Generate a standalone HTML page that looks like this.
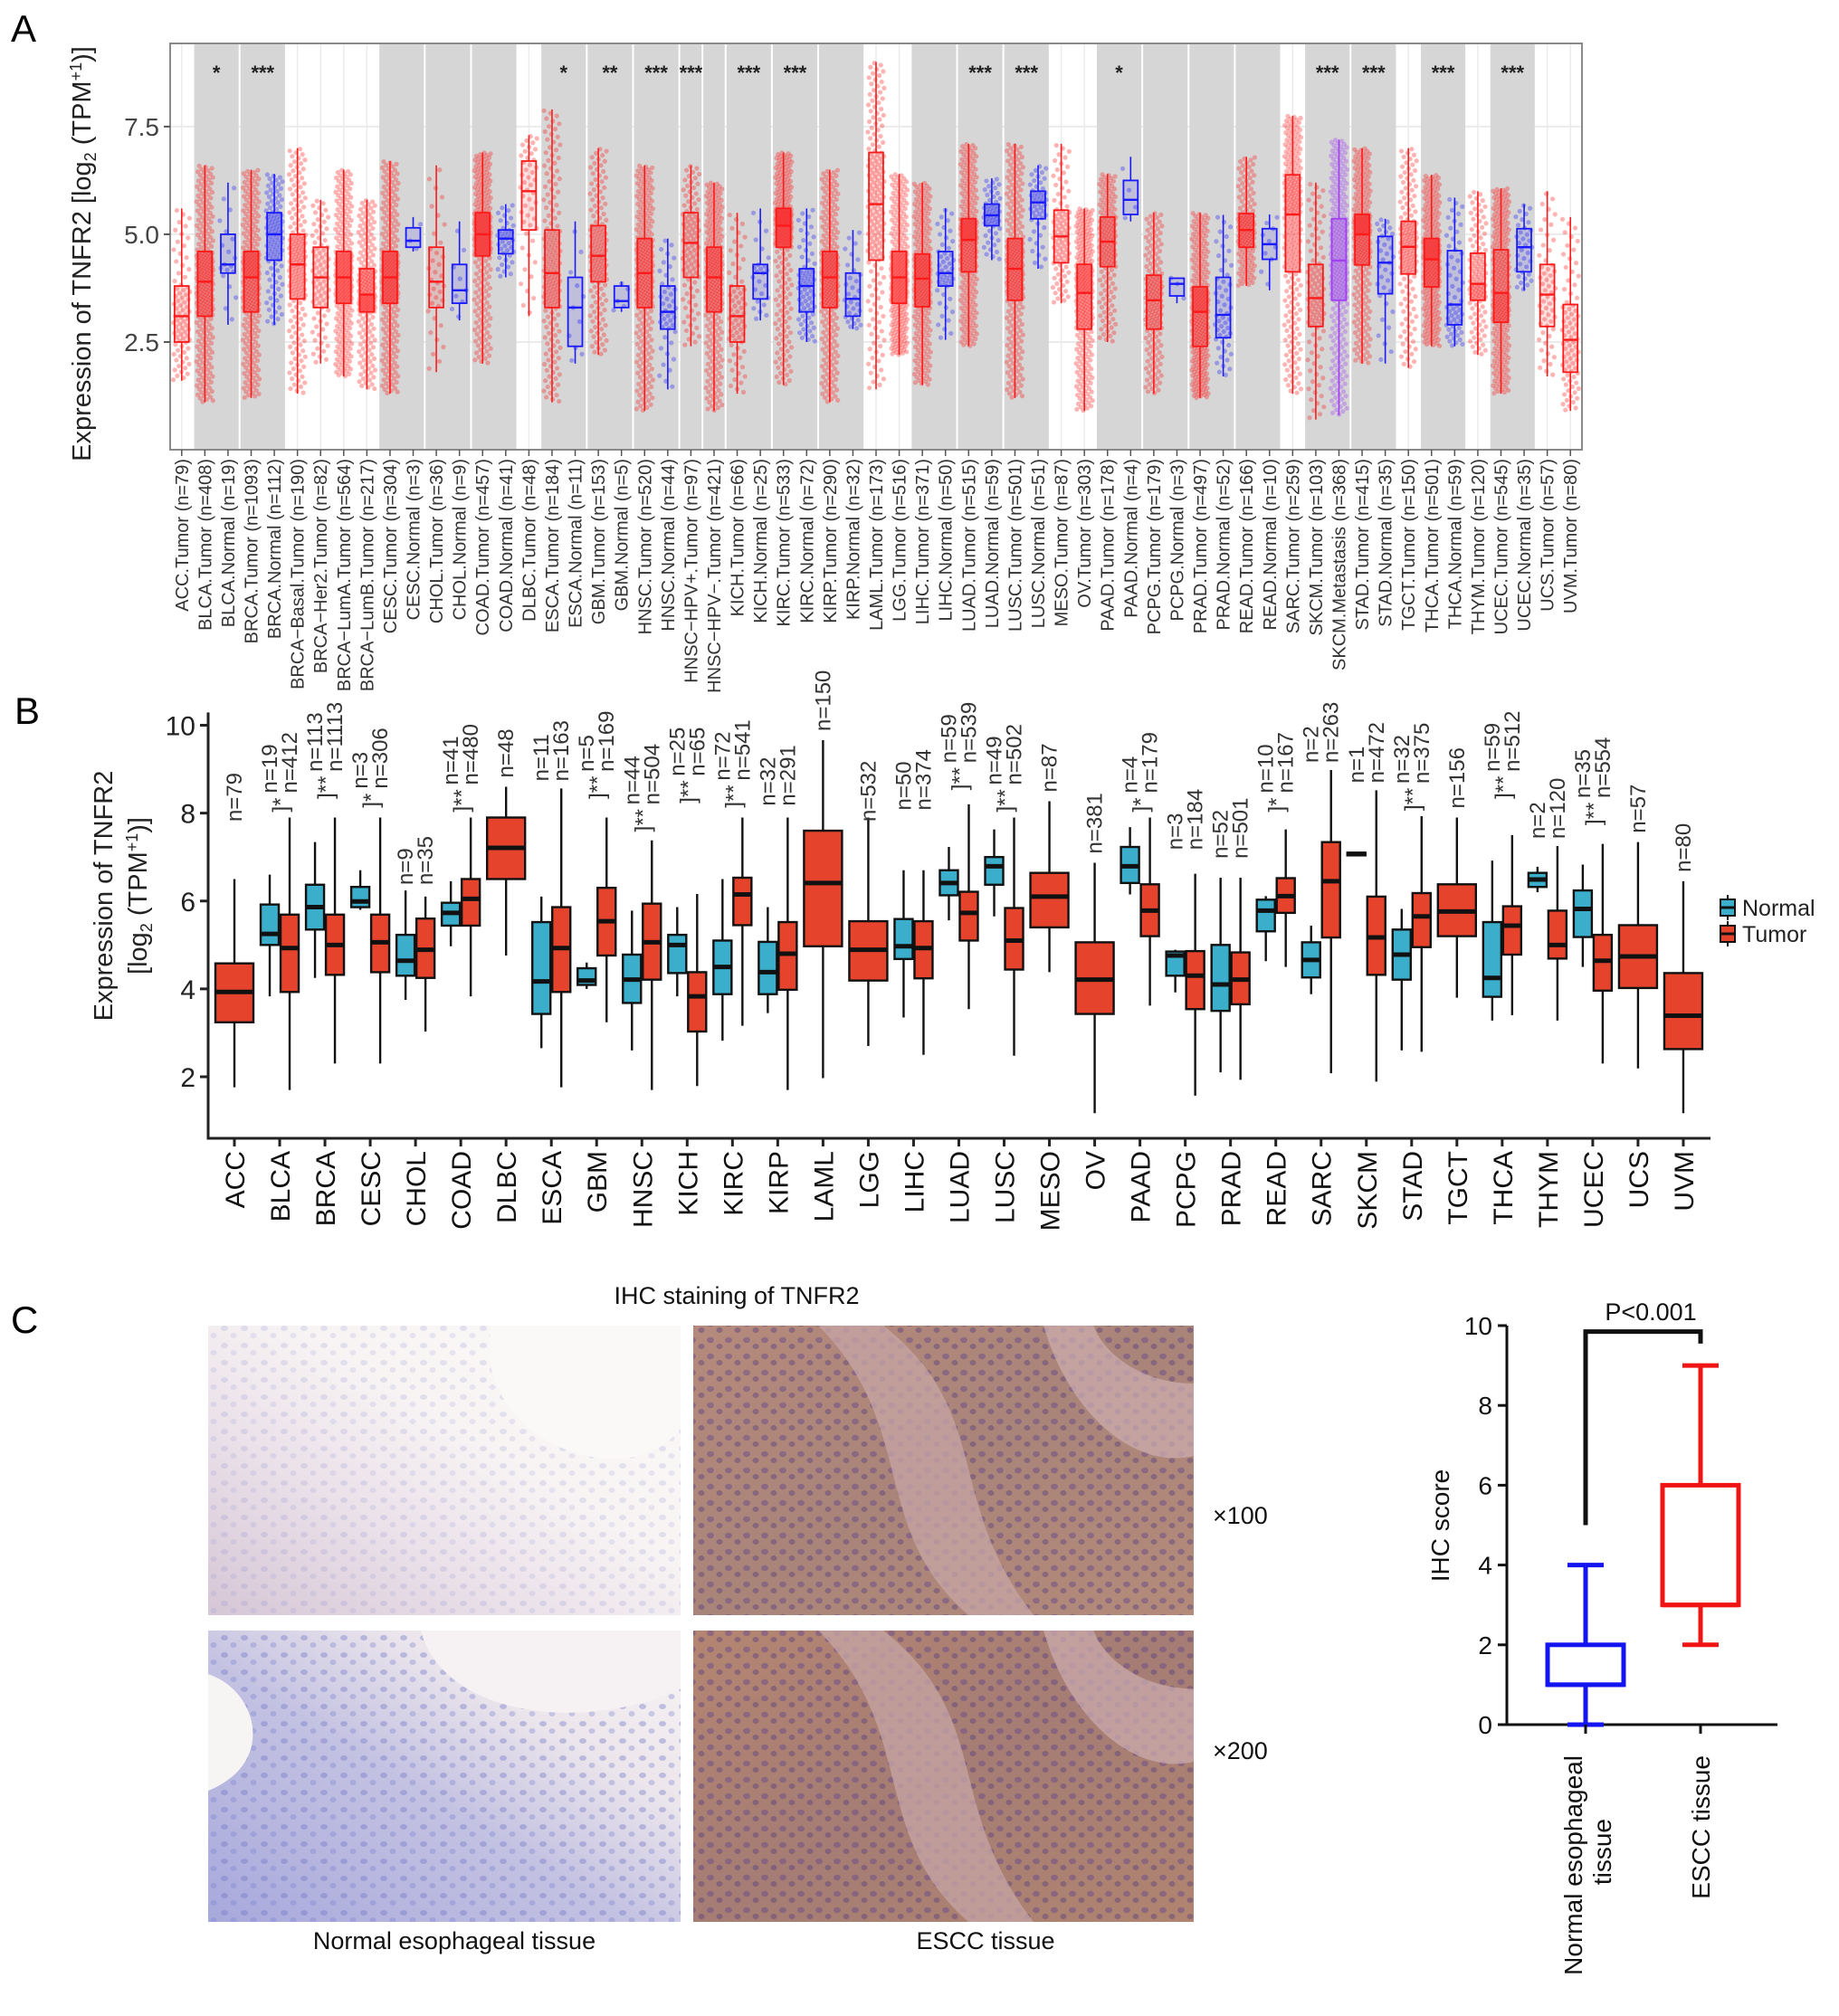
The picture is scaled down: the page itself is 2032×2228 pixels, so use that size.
<!DOCTYPE html>
<html><head><meta charset="utf-8"><style>
body{margin:0;background:#fff}
svg{display:block;font-family:"Liberation Sans",sans-serif}
</style></head><body>
<svg id="fig" xmlns="http://www.w3.org/2000/svg" width="2032" height="2228" viewBox="0 0 2032 2228">
<defs>
<pattern id="nucB" width="22" height="19" patternUnits="userSpaceOnUse"><ellipse cx="6" cy="5" rx="4" ry="3" fill="#6f73c4" opacity="0.55"/><ellipse cx="16" cy="13" rx="3.5" ry="3" fill="#7a7fcf" opacity="0.5"/></pattern>
<pattern id="nucP" width="20" height="18" patternUnits="userSpaceOnUse"><ellipse cx="5" cy="5" rx="4" ry="3.2" fill="#6a4a8a" opacity="0.55"/><ellipse cx="15" cy="12" rx="3.5" ry="3" fill="#5c3f7e" opacity="0.5"/></pattern>
<linearGradient id="gN1" x1="0" y1="1" x2="1" y2="0"><stop offset="0" stop-color="#d6c6d6"/><stop offset="0.35" stop-color="#ebe2ea"/><stop offset="0.6" stop-color="#f8f4f4"/><stop offset="1" stop-color="#fbf9f8"/></linearGradient>
<linearGradient id="gN2" x1="0" y1="1" x2="1" y2="0"><stop offset="0" stop-color="#a7a9dc"/><stop offset="0.45" stop-color="#c4c2e2"/><stop offset="0.7" stop-color="#ece6ec"/><stop offset="1" stop-color="#f8f4f4"/></linearGradient>
<linearGradient id="gT1" x1="0" y1="0" x2="1" y2="1"><stop offset="0" stop-color="#b58a7c"/><stop offset="0.5" stop-color="#a98479"/><stop offset="1" stop-color="#b48b7a"/></linearGradient>
<linearGradient id="gT2" x1="0" y1="0" x2="1" y2="1"><stop offset="0" stop-color="#b48572"/><stop offset="0.5" stop-color="#a57d74"/><stop offset="1" stop-color="#b08470"/></linearGradient>
</defs>
<g id="panelA"></g>
<g id="panelB"></g>
<g id="panelC"></g>
</svg>
<script>
// ---------------- Panel A data ----------------
const aLabels=["ACC.Tumor (n=79)","BLCA.Tumor (n=408)","BLCA.Normal (n=19)","BRCA.Tumor (n=1093)","BRCA.Normal (n=112)","BRCA\u2212Basal.Tumor (n=190)","BRCA\u2212Her2.Tumor (n=82)","BRCA\u2212LumA.Tumor (n=564)","BRCA\u2212LumB.Tumor (n=217)","CESC.Tumor (n=304)","CESC.Normal (n=3)","CHOL.Tumor (n=36)","CHOL.Normal (n=9)","COAD.Tumor (n=457)","COAD.Normal (n=41)","DLBC.Tumor (n=48)","ESCA.Tumor (n=184)","ESCA.Normal (n=11)","GBM.Tumor (n=153)","GBM.Normal (n=5)","HNSC.Tumor (n=520)","HNSC.Normal (n=44)","HNSC\u2212HPV+.Tumor (n=97)","HNSC\u2212HPV\u2212.Tumor (n=421)","KICH.Tumor (n=66)","KICH.Normal (n=25)","KIRC.Tumor (n=533)","KIRC.Normal (n=72)","KIRP.Tumor (n=290)","KIRP.Normal (n=32)","LAML.Tumor (n=173)","LGG.Tumor (n=516)","LIHC.Tumor (n=371)","LIHC.Normal (n=50)","LUAD.Tumor (n=515)","LUAD.Normal (n=59)","LUSC.Tumor (n=501)","LUSC.Normal (n=51)","MESO.Tumor (n=87)","OV.Tumor (n=303)","PAAD.Tumor (n=178)","PAAD.Normal (n=4)","PCPG.Tumor (n=179)","PCPG.Normal (n=3)","PRAD.Tumor (n=497)","PRAD.Normal (n=52)","READ.Tumor (n=166)","READ.Normal (n=10)","SARC.Tumor (n=259)","SKCM.Tumor (n=103)","SKCM.Metastasis (n=368)","STAD.Tumor (n=415)","STAD.Normal (n=35)","TGCT.Tumor (n=150)","THCA.Tumor (n=501)","THCA.Normal (n=59)","THYM.Tumor (n=120)","UCEC.Tumor (n=545)","UCEC.Normal (n=35)","UCS.Tumor (n=57)","UVM.Tumor (n=80)"];
const aN=[79,408,19,1093,112,190,82,564,217,304,3,36,9,457,41,48,184,11,153,5,520,44,97,421,66,25,533,72,290,32,173,516,371,50,515,59,501,51,87,303,178,4,179,3,497,52,166,10,259,103,368,415,35,150,501,59,120,545,35,57,80];
const aMed=[3.1,3.9,4.3,4.0,5.0,4.3,4.0,4.0,3.6,4.0,4.85,3.9,3.7,5.0,4.9,6.0,4.1,3.3,4.5,3.45,4.1,3.2,4.8,4.0,3.1,4.1,5.2,3.8,4.0,3.5,5.7,4.0,3.97,4.1,4.87,5.44,4.2,5.74,4.95,3.64,4.83,5.8,3.47,3.85,3.2,3.13,5.1,4.77,5.46,3.52,4.39,5.0,4.34,4.71,4.42,3.37,3.85,3.64,4.7,3.6,2.55];
const aQ1=[2.5,3.1,4.1,3.2,4.4,3.5,3.3,3.4,3.2,3.4,4.7,3.3,3.4,4.5,4.55,5.1,3.3,2.4,3.9,3.3,3.3,2.8,4.0,3.2,2.5,3.5,4.7,3.2,3.3,3.1,4.4,3.4,3.32,3.8,4.13,5.2,3.47,5.36,4.34,2.8,4.25,5.46,2.8,3.57,2.4,2.6,4.7,4.42,4.13,2.86,3.47,4.29,3.62,4.08,3.78,2.9,3.47,2.96,4.13,2.86,1.8];
const aQ3=[3.8,4.6,5.0,4.6,5.5,5.0,4.7,4.6,4.2,4.6,5.15,4.7,4.3,5.5,5.1,6.7,5.1,4.0,5.2,3.8,4.9,3.8,5.5,4.7,3.8,4.3,5.6,4.2,4.6,4.1,6.9,4.6,4.54,4.6,5.36,5.7,4.9,6.0,5.56,4.3,5.4,6.25,4.05,3.98,3.78,4.0,5.48,5.13,6.38,4.3,5.36,5.46,4.95,5.3,4.9,4.62,4.56,4.64,5.13,4.3,3.37];
const aLo=[1.6,1.1,2.9,1.2,2.9,1.3,2.0,1.7,1.4,1.3,4.6,1.8,3.0,2.0,4.0,3.1,1.1,2.0,2.2,3.2,0.9,1.4,2.4,0.9,1.3,3.0,1.5,2.5,1.1,2.8,1.4,2.2,1.5,2.55,2.4,4.4,1.2,4.2,3.4,0.9,2.5,5.3,1.3,3.4,1.2,1.7,3.8,3.7,1.3,0.7,0.8,2.0,2.0,1.9,2.4,2.4,2.2,1.3,3.7,1.7,0.9];
const aHi=[5.6,6.6,6.2,6.5,6.4,7.0,5.8,6.5,5.8,6.7,5.4,6.6,5.3,6.9,5.7,7.3,7.9,5.3,7.0,3.9,6.6,4.9,6.6,6.2,5.5,5.6,6.9,5.6,6.5,5.1,9.0,6.4,6.2,5.6,7.1,6.3,7.1,6.6,7.1,5.6,6.4,6.8,5.5,4.0,5.5,5.45,6.8,5.46,7.75,6.2,7.2,7.0,5.36,7.0,6.38,5.85,6.0,6.07,5.7,6.0,5.4];
const aGroupSize=[1,2,2,1,1,1,1,2,2,2,1,2,2,2,1,1,2,2,2,1,1,2,2,2,1,1,2,2,2,2,1,2,2,1,2,1,2,1,1];
const aGroupShade=[0,1,1,0,0,0,0,1,1,1,0,1,1,1,1,1,1,1,1,0,0,1,1,1,0,0,1,1,1,1,0,1,1,0,1,0,1,0,0];
const aGroupSig=["","*","***","","","","","","","","","*","**","***","***","","***","***","","","","","***","***","","","*","","","","","***","***","","***","","***","",""];
const aTicks=[2.5,5.0,7.5];

// ---------------- Panel B data ----------------
const bCats=["ACC","BLCA","BRCA","CESC","CHOL","COAD","DLBC","ESCA","GBM","HNSC","KICH","KIRC","KIRP","LAML","LGG","LIHC","LUAD","LUSC","MESO","OV","PAAD","PCPG","PRAD","READ","SARC","SKCM","STAD","TGCT","THCA","THYM","UCEC","UCS","UVM"];
const bNormN=[0,19,113,3,9,41,0,11,5,44,25,72,32,0,0,50,59,49,0,0,4,3,52,10,2,1,32,0,59,2,35,0,0];
const bTumN=[79,412,1113,306,35,480,48,163,169,504,65,541,291,150,532,374,539,502,87,381,179,184,501,167,263,472,375,156,512,120,554,57,80];
const bNormMed=[0,5.25,5.86,5.99,4.64,5.73,0,4.17,4.19,4.21,5.0,4.5,4.38,0,0,4.97,6.41,6.79,0,0,6.79,4.76,4.1,5.78,4.66,7.07,4.78,0,4.25,6.49,5.82,0,0];
const bNormQ1=[0,5.0,5.35,5.86,4.3,5.44,0,3.43,4.09,3.68,4.36,3.88,3.88,0,0,4.68,6.13,6.37,0,0,6.41,4.3,3.5,5.31,4.26,7.04,4.21,0,3.82,6.32,5.18,0,0];
const bNormQ3=[0,5.92,6.37,6.32,5.23,5.96,0,5.52,4.47,4.78,5.23,5.1,5.07,0,0,5.59,6.7,7.0,0,0,7.23,4.85,5.0,6.03,5.06,7.1,5.35,0,5.52,6.64,6.24,0,0];
const bNormLo=[0,3.83,4.25,5.8,3.75,4.97,0,2.65,4.0,2.6,3.83,2.82,3.45,0,0,3.35,5.56,5.65,0,0,6.15,3.92,2.1,4.63,3.88,7.04,2.6,0,3.28,6.2,4.5,0,0];
const bNormHi=[0,6.6,7.34,6.7,6.24,6.45,0,6.1,4.6,5.78,5.86,6.5,5.86,0,0,6.7,7.23,7.63,0,0,7.68,4.89,6.53,6.11,5.44,7.1,5.82,0,6.92,6.78,6.83,0,0];
const bTumMed=[3.93,4.93,5.0,5.06,4.89,6.05,7.21,4.93,5.54,5.06,3.83,6.15,4.8,6.41,4.89,4.93,5.73,5.1,6.1,4.21,5.78,4.3,4.21,6.11,6.45,5.17,5.65,5.76,5.44,5.0,4.64,4.74,3.39];
const bTumQ1=[3.24,3.93,4.32,4.38,4.25,5.44,6.5,3.93,4.76,4.21,3.03,5.45,3.98,4.97,4.19,4.24,5.1,4.44,5.4,3.43,5.2,3.54,3.65,5.73,5.17,4.32,4.95,5.2,4.78,4.69,3.96,4.02,2.63];
const bTumQ3=[4.58,5.69,5.69,5.69,5.6,6.5,7.9,5.86,6.3,5.94,4.38,6.53,5.52,7.6,5.54,5.54,6.21,5.84,6.64,5.06,6.38,4.86,4.83,6.52,7.34,6.1,6.18,6.38,5.88,5.78,5.23,5.45,4.36];
const bTumLo=[1.76,1.7,2.3,2.3,3.03,3.83,4.76,1.76,3.24,1.7,1.79,3.16,1.7,1.97,2.7,2.5,3.54,2.48,4.38,1.17,3.62,1.57,1.93,4.5,2.08,1.89,2.57,3.8,3.4,3.28,2.3,2.19,1.17];
const bTumHi=[6.5,7.9,7.9,7.9,6.1,7.9,8.6,8.56,7.9,7.38,6.16,7.9,7.9,9.66,7.9,6.7,8.2,7.9,8.27,6.87,7.9,6.62,6.53,7.63,8.98,8.52,7.93,7.9,7.5,7.25,7.3,7.34,6.45];
const bMaxPt=[7.6,7.9,8.2,8.0,6.2,7.9,8.6,8.56,8.2,7.45,8.1,8.0,8.0,9.66,7.6,7.9,8.4,7.9,8.27,6.87,7.9,7.0,6.8,7.9,8.98,8.52,7.93,7.9,8.2,7.25,7.6,7.34,6.45];
const bSig=["","*","**","*","","**","","","**","**","**","**","","","","","**","**","","","*","","","*","","","**","","**","","**","",""];
const bTicks=[2,4,6,8,10];

// ---------------- Panel C chart data ----------------
const cGroups=["Normal esophageal tissue","ESCC tissue"];
const cMin=[0,2], cQ1=[1,3], cMed=[1,3], cQ3=[2,6], cMax=[4,9];
const cTicks=[0,2,4,6,8,10];

const NS="http://www.w3.org/2000/svg";
function mk(tag,attrs,parent,text){const e=document.createElementNS(NS,tag);for(const k in attrs)e.setAttribute(k,attrs[k]);if(text!==undefined)e.textContent=text;parent.appendChild(e);return e;}

// ================= PANEL A =================
(function(){
const g=document.getElementById('panelA');
const L=188,R=1748,T=48,B=497, y0=0, y1=9.43;
const bw=(R-L)/aLabels.length;
const y=v=>B-(v-y0)/(y1-y0)*(B-T);
const x=i=>L+bw*(i+0.5);
const typeOf=lab=>lab.indexOf('.Normal')>=0?'N':(lab.indexOf('Metastasis')>=0?'M':'T');
const lt=mk('text',{x:12,y:46,'font-size':42,fill:'#000'},g,'A');

const bg=mk('rect',{x:L,y:T,width:R-L,height:B-T,fill:'#fff'},g);

aTicks.forEach(t=>{const l=mk('line',{x1:L,x2:R,y1:y(t),y2:y(t),stroke:'#ebebeb','stroke-width':2},g);});
for(let i=0;i<aLabels.length;i++){const l=mk('line',{x1:x(i),x2:x(i),y1:T,y2:B,stroke:'#ebebeb','stroke-width':1.5},g);}
let s=0;
aGroupSize.forEach((n,gi)=>{
  const gx=L+s*bw;
  if(aGroupShade[gi]){const r=mk('rect',{x:gx+1,y:T,width:n*bw-2,height:B-T,fill:'#d6d6d6'},g);}
  if(aGroupSig[gi]){const t=mk('text',{x:gx+n*bw/2,y:T+40,'font-size':22,'font-weight':'bold','text-anchor':'middle',fill:'#222'},g,aGroupSig[gi]);}
  s+=n;
});
const col={T:'#ff1a1a',N:'#1a1aff',M:'#a040f0'};
const dots=mk('g',{},g);
for(let i=0;i<aLabels.length;i++){
  const c=col[typeOf(aLabels[i])];
  const cnt=Math.min(aN[i],300);
  const qs=[aLo[i],aQ1[i],aMed[i],aQ3[i],aHi[i]];
  for(let k=0;k<cnt;k++){
    const u=((k+0.5)/cnt);
    const seg=Math.min(3,Math.floor(u*4)), f=u*4-seg;
    const v=qs[seg]+(qs[seg+1]-qs[seg])*f;
    const jx=(((k*0.618034+i*0.37)%1)-0.5)*bw*0.72;
    const p=mk('circle',{cx:x(i)+jx,cy:y(v),r:2.6,fill:c,'fill-opacity':0.33},dots);
    
    
  }
}
for(let i=0;i<aLabels.length;i++){
  const c=col[typeOf(aLabels[i])], w=bw*0.62, cx=x(i);
  const bx=mk('g',{},g);
  
  
  mk('line',{x1:cx,x2:cx,y1:y(aHi[i]),y2:y(aQ3[i]),stroke:c,'stroke-width':1.6},bx);
  mk('line',{x1:cx,x2:cx,y1:y(aQ1[i]),y2:y(aLo[i]),stroke:c,'stroke-width':1.6},bx);
  mk('rect',{x:cx-w/2,y:y(aQ3[i]),width:w,height:y(aQ1[i])-y(aQ3[i]),fill:c,'fill-opacity':0.12,stroke:c,'stroke-width':1.8},bx);
  mk('line',{x1:cx-w/2,x2:cx+w/2,y1:y(aMed[i]),y2:y(aMed[i]),stroke:c,'stroke-width':2.4},bx);
}
const fr=mk('rect',{x:L,y:T,width:R-L,height:B-T,fill:'none',stroke:'#8a8a8a','stroke-width':2},g);

aTicks.forEach(t=>{
  const tk=mk('line',{x1:L-7,x2:L,y1:y(t),y2:y(t),stroke:'#555','stroke-width':2},g);
  const tl=mk('text',{x:L-12,y:y(t)+10,'font-size':28,'text-anchor':'end',fill:'#444'},g,t.toFixed(1));
});
aLabels.forEach((lab,i)=>{
  const tk=mk('line',{x1:x(i),x2:x(i),y1:B,y2:B+7,stroke:'#555','stroke-width':1.5},g);
  const t=mk('text',{transform:`translate(${x(i)+7},${B+10}) rotate(-90)`,'font-size':20,'text-anchor':'end',fill:'#333'},g,lab);
  
});
const yt=mk('text',{transform:`translate(100,${(T+B)/2+8}) rotate(-90)`,'font-size':29,'text-anchor':'middle',fill:'#222'},g);

yt.innerHTML='Expression of TNFR2 [log<tspan font-size="18" dy="6">2</tspan><tspan dy="-6"> (TPM</tspan><tspan font-size="18" dy="-10">+1</tspan><tspan dy="10">)]</tspan>';
})();

// ================= PANEL B =================
(function(){
const g=document.getElementById('panelB');
const AX=230, B=1258, Y10=801.5, Y2=1190;
const y=v=>Y2-(v-2)*(Y2-Y10)/8;
const x0=259, step=50.03;
const x=i=>x0+i*step;
const lt=mk('text',{x:16,y:800,'font-size':42,fill:'#000'},g,'B');
const ax=mk('path',{d:`M${AX},${y(10.29)} V${B} H1890`,fill:'none',stroke:'#222','stroke-width':3},g);

bTicks.forEach(t=>{
  const tk=mk('line',{x1:AX-9,x2:AX,y1:y(t),y2:y(t),stroke:'#222','stroke-width':3},g);
  const tl=mk('text',{x:AX-14,y:y(t)+11,'font-size':30,'text-anchor':'end',fill:'#222'},g,String(t));
});
const NC='#3aaecb', TC='#e5432c';
function box(cx,w,lo,q1,md,q3,hi,c,name){
  const bx=mk('g',{},g);
  
  
  mk('line',{x1:cx,x2:cx,y1:y(hi),y2:y(lo),stroke:'#111','stroke-width':2.4},bx);
  mk('rect',{x:cx-w/2,y:y(q3),width:w,height:Math.max(3,y(q1)-y(q3)),fill:c,stroke:'#111','stroke-width':2.4},bx);
  mk('line',{x1:cx-w/2,x2:cx+w/2,y1:y(md),y2:y(md),stroke:'#111','stroke-width':5},bx);
}
bCats.forEach((cat,i)=>{
  const cx=x(i);
  const tk=mk('line',{x1:cx,x2:cx,y1:B,y2:B+9,stroke:'#222','stroke-width':3},g);
  const tl=mk('text',{transform:`translate(${cx+11},${B+14}) rotate(-90)`,'font-size':30,'text-anchor':'end',fill:'#111'},g,cat);
  
  const base=y(bMaxPt[i]);
  if(bNormN[i]>0){
    box(cx-11,20,bNormLo[i],bNormQ1[i],bNormMed[i],bNormQ3[i],bNormHi[i],NC,'box-normal-'+cat.toLowerCase());
    box(cx+11,20,bTumLo[i],bTumQ1[i],bTumMed[i],bTumQ3[i],bTumHi[i],TC,'box-tumor-'+cat.toLowerCase());
    let lb=base-8;
    if(bSig[i]){
      const st=mk('text',{transform:`translate(${cx+9},${base-6}) rotate(-90)`,'font-size':24,'text-anchor':'start',fill:'#333'},g,']'+bSig[i]);
      
      lb=base-6-12-bSig[i].length*9;
    }
    const n1=mk('text',{transform:`translate(${cx-3},${lb}) rotate(-90)`,'font-size':24,fill:'#333'},g,'n='+bNormN[i]);
    
    const n2=mk('text',{transform:`translate(${cx+19},${lb}) rotate(-90)`,'font-size':24,fill:'#333'},g,'n='+bTumN[i]);
    
  } else {
    box(cx,42,bTumLo[i],bTumQ1[i],bTumMed[i],bTumQ3[i],bTumHi[i],TC,'box-tumor-'+cat.toLowerCase());
    const n2=mk('text',{transform:`translate(${cx+8},${base-10}) rotate(-90)`,'font-size':24,fill:'#333'},g,'n='+bTumN[i]);
    
  }
});
const yt=mk('text',{'font-size':29,'text-anchor':'middle',fill:'#222',transform:`translate(124,990) rotate(-90)`},g,'Expression of TNFR2');

const yt2=mk('text',{'font-size':29,'text-anchor':'middle',fill:'#222',transform:`translate(162,990) rotate(-90)`},g);

yt2.innerHTML='[log<tspan font-size="18" dy="6">2</tspan><tspan dy="-6"> (TPM</tspan><tspan font-size="18" dy="-10">+1</tspan><tspan dy="10">)]</tspan>';
const lg=mk('g',{},g);
[['Normal',NC,1003],['Tumor',TC,1032]].forEach(([lab,c,yy])=>{
  const e=mk('g',{},lg);
  mk('line',{x1:1909,x2:1909,y1:yy-14,y2:yy+14,stroke:'#111','stroke-width':2},e);
  mk('rect',{x:1901,y:yy-9,width:16,height:18,fill:c,stroke:'#111','stroke-width':2},e);
  mk('line',{x1:1901,x2:1917,y1:yy,y2:yy,stroke:'#111','stroke-width':3},e);
  mk('text',{x:1925,y:yy+9,'font-size':25,fill:'#222'},e,lab);
});
})();

// ================= PANEL C =================
(function(){
const g=document.getElementById('panelC');
const lt=mk('text',{x:12,y:1473,'font-size':42,fill:'#000'},g,'C');
const tt=mk('text',{x:814,y:1441,'font-size':27,'text-anchor':'middle',fill:'#111'},g,'IHC staining of TNFR2');
const imgs=[[230,1465,522,320,'gN1','nucB','normal-image-100x',0.3],[766,1465,553,320,'gT1','nucP','escc-image-100x',0.9],[230,1802,522,322,'gN2','nucB','normal-image-200x',0.7],[766,1802,553,322,'gT2','nucP','escc-image-200x',0.9]];
imgs.forEach(([ix,iy,w,h,gr,pt,nm,op])=>{
  const e=mk('g',{},g);
  mk('rect',{x:ix,y:iy,width:w,height:h,fill:`url(#${gr})`},e);
  mk('rect',{x:ix,y:iy,width:w,height:h,fill:`url(#${pt})`,opacity:op},e);
  if(gr==='gN1'){mk('path',{d:`M${ix+w*0.6},${iy} C${ix+w*0.55},${iy+h*0.4} ${ix+w*0.9},${iy+h*0.6} ${ix+w},${iy+h*0.35} L${ix+w},${iy} Z`,fill:'#fbf9f8'},e);}
  if(gr==='gN2'){mk('path',{d:`M${ix+w*0.45},${iy} C${ix+w*0.5},${iy+h*0.3} ${ix+w*0.8},${iy+h*0.35} ${ix+w},${iy+h*0.2} L${ix+w},${iy} Z`,fill:'#f6f2f3'},e);
    mk('path',{d:`M${ix},${iy+h*0.15} C${ix+w*0.1},${iy+h*0.2} ${ix+w*0.15},${iy+h*0.45} ${ix},${iy+h*0.55} Z`,fill:'#f7f4f4'},e);}
  if(gr==='gT1'||gr==='gT2'){
    mk('path',{d:`M${ix+w*0.25},${iy} C${ix+w*0.45},${iy+h*0.35} ${ix+w*0.35},${iy+h*0.7} ${ix+w*0.55},${iy+h} L${ix+w*0.68},${iy+h} C${ix+w*0.5},${iy+h*0.6} ${ix+w*0.6},${iy+h*0.3} ${ix+w*0.38},${iy} Z`,fill:'#c7a5a6',opacity:0.75},e);
    mk('path',{d:`M${ix+w*0.7},${iy} C${ix+w*0.75},${iy+h*0.3} ${ix+w*0.88},${iy+h*0.5} ${ix+w},${iy+h*0.45} L${ix+w},${iy+h*0.2} C${ix+w*0.9},${iy+h*0.2} ${ix+w*0.82},${iy+h*0.1} ${ix+w*0.8},${iy} Z`,fill:'#cdaeb0',opacity:0.7},e);
  }
});
[['\u00d7100',1675],['\u00d7200',1935]].forEach(([t,yy])=>{const m=mk('text',{x:1340,y:yy+9,'font-size':27,fill:'#111'},g,t);});
const c1=mk('text',{x:502,y:2154,'font-size':27,'text-anchor':'middle',fill:'#111'},g,'Normal esophageal tissue');
const c2=mk('text',{x:1089,y:2154,'font-size':27,'text-anchor':'middle',fill:'#111'},g,'ESCC tissue');

// IHC score chart
const AX=1665, Y0=1906, Y10=1465, XE=1964;
const y=v=>Y0-v*(Y0-Y10)/10;
const xs=[1752,1879], cols=['#1414f0','#f01414'];
const ax=mk('path',{d:`M${AX},${Y10} V${Y0} H${XE}`,fill:'none',stroke:'#111','stroke-width':3},g);
cTicks.forEach(t=>{
  const tk=mk('line',{x1:AX-10,x2:AX,y1:y(t),y2:y(t),stroke:'#111','stroke-width':3},g);
  const tl=mk('text',{x:AX-16,y:y(t)+10,'font-size':28,'text-anchor':'end',fill:'#111'},g,String(t));
});
const yt=mk('text',{transform:`translate(1601,1686) rotate(-90)`,'font-size':28,'text-anchor':'middle',fill:'#111'},g,'IHC score');
cGroups.forEach((nm,i)=>{
  const cx=xs[i], w=84, c=cols[i];
  const bx=mk('g',{},g);
  
  
  mk('line',{x1:cx,x2:cx,y1:y(cMax[i]),y2:y(cMin[i]),stroke:c,'stroke-width':5},bx);
  mk('line',{x1:cx-20,x2:cx+20,y1:y(cMax[i]),y2:y(cMax[i]),stroke:c,'stroke-width':5},bx);
  mk('line',{x1:cx-20,x2:cx+20,y1:y(cMin[i]),y2:y(cMin[i]),stroke:c,'stroke-width':5},bx);
  mk('rect',{x:cx-w/2,y:y(cQ3[i]),width:w,height:y(cQ1[i])-y(cQ3[i]),fill:'#fff',stroke:c,'stroke-width':5},bx);
  mk('line',{x1:cx-w/2,x2:cx+w/2,y1:y(cMed[i]),y2:y(cMed[i]),stroke:c,'stroke-width':5},bx);
  const tk=mk('line',{x1:cx,x2:cx,y1:Y0,y2:Y0+10,stroke:'#111','stroke-width':3},g);
});
const l1=mk('text',{transform:`translate(1752,1940) rotate(-90)`,'font-size':28,'text-anchor':'end',fill:'#111'},g);

l1.innerHTML='<tspan x="0" dy="-4">Normal esophageal</tspan><tspan x="-70" dy="32">tissue</tspan>';
const l2=mk('text',{transform:`translate(1889,1940) rotate(-90)`,'font-size':28,'text-anchor':'end',fill:'#111'},g,'ESCC tissue');

const br=mk('path',{d:`M${xs[0]},${y(cMax[0]+1)} V${y(9.85)} H${xs[1]} V${y(9.55)}`,fill:'none',stroke:'#111','stroke-width':5},g);

const pv=mk('text',{x:1824,y:1459,'font-size':27,'text-anchor':'middle',fill:'#111'},g,'P<0.001');
})();
</script>
</body></html>
